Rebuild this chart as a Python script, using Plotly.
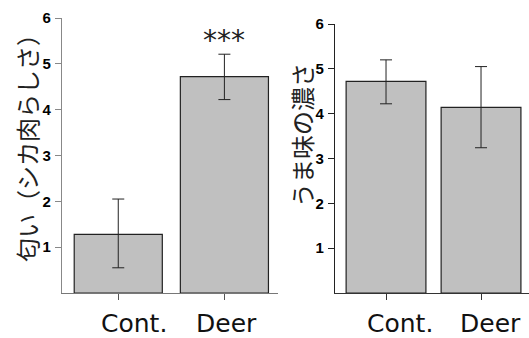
import plotly.graph_objects as go

# Sensory scores: mean with error range, two panels
groups = ["Cont.", "Deer"]

smell_mean = [1.28, 4.72]
smell_err_hi = [0.77, 0.49]
smell_err_lo = [0.73, 0.50]

umami_mean = [4.72, 4.14]
umami_err_hi = [0.48, 0.91]
umami_err_lo = [0.50, 0.90]

y_ticks = [1, 2, 3, 4, 5, 6]
left_title = "匂い（シカ肉らしさ）"
right_title = "うま味の濃さ"
sig_label = "***"

W, H = 529, 338
bar_fill = "#c0c0c0"
bar_line = "#222222"

fig = go.Figure()

fig.add_trace(go.Bar(
    x=groups, y=smell_mean, width=0.83,
    marker=dict(color=bar_fill, line=dict(color=bar_line, width=1.2)),
    error_y=dict(type="data", symmetric=False, array=smell_err_hi,
                 arrayminus=smell_err_lo, color="#222", thickness=1, width=6),
    xaxis="x", yaxis="y", showlegend=False,
))
fig.add_trace(go.Bar(
    x=groups, y=umami_mean, width=0.84,
    marker=dict(color=bar_fill, line=dict(color=bar_line, width=1.2)),
    error_y=dict(type="data", symmetric=False, array=umami_err_hi,
                 arrayminus=umami_err_lo, color="#222", thickness=1, width=6),
    xaxis="x2", yaxis="y2", showlegend=False,
))

xcommon = dict(
    type="category", showgrid=False, zeroline=False,
    showline=True, linewidth=1.2, automargin=False,
    ticks="outside", ticklen=6, tickwidth=1,
    showticklabels=False,
)
ycommon = dict(
    range=[0, 6], tickvals=y_ticks,
    ticktext=[f"<b>{v}</b>" for v in y_ticks],
    showgrid=False, zeroline=False, automargin=False,
    showline=True, linewidth=1.2,
    ticks="outside", ticklen=6, tickwidth=1,
    ticklabelstandoff=1,
    tickfont=dict(family="Liberation Sans", size=15, color="#000"),
)

fig.update_layout(
    width=W, height=H,
    margin=dict(l=0, r=0, t=0, b=0),
    paper_bgcolor="white", plot_bgcolor="white",
    xaxis=dict(xcommon, domain=[62 / W, 278 / W], range=[-0.53, 1.505],
               anchor="y", linecolor="#777", tickcolor="#555"),
    yaxis=dict(ycommon, domain=[45 / H, 320 / H], anchor="x",
               linecolor="#888", tickcolor="#888"),
    xaxis2=dict(xcommon, domain=[335 / W, 1.0], range=[-0.537, 1.505],
                anchor="y2", linecolor="#333", tickcolor="#333"),
    yaxis2=dict(ycommon, domain=[45 / H, 314 / H], anchor="x2",
                linecolor="#222", tickcolor="#222"),
)

# Category labels under each panel
label_font = dict(family="DejaVu Sans", size=25, color="#111")
label_shift = {("x", 0): 16, ("x", 1): 2, ("x2", 0): 14, ("x2", 1): 9}
for (ax, i), dx in label_shift.items():
    fig.add_annotation(text=groups[i], xref=ax, yref="paper",
                       x=groups[i], y=1 - 323 / H, xshift=dx,
                       showarrow=False, font=label_font,
                       xanchor="center", yanchor="middle")

title_font = dict(family="Noto Sans CJK JP", size=24, color="#222")
fig.add_annotation(text=left_title, xref="paper", yref="paper",
                   x=27 / W, y=1 - 142 / H, textangle=-90, showarrow=False,
                   font=title_font, xanchor="center", yanchor="middle")
fig.add_annotation(text=right_title, xref="paper", yref="paper",
                   x=302 / W, y=1 - 135 / H, textangle=-90, showarrow=False,
                   font=title_font, xanchor="center", yanchor="middle")
fig.add_annotation(text=sig_label, xref="x", yref="y",
                   x=groups[1], y=smell_mean[1] + smell_err_hi[1] + 0.3,
                   showarrow=False,
                   font=dict(family="DejaVu Sans", size=28, color="#222"))

fig.write_html("out.html")
